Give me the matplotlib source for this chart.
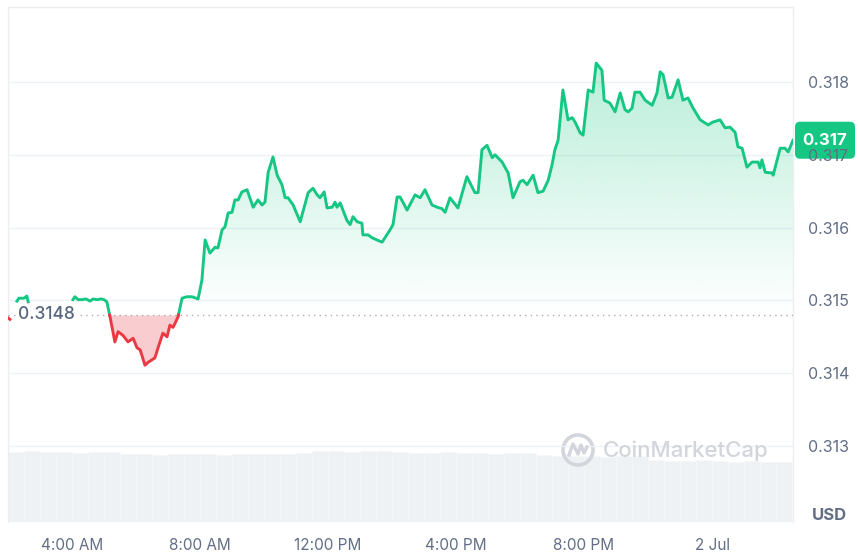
import numpy as np
import matplotlib.pyplot as plt
import matplotlib.transforms as mtransforms
from matplotlib.path import Path
from matplotlib.patches import PathPatch, FancyBboxPatch, Circle
from matplotlib.lines import Line2D
from matplotlib.colors import to_rgb

plt.rcParams['font.family'] = ['Inter', 'DejaVu Sans']

# price series, hours since midnight of 1 Jul (nan = gap in the feed)
hours = [2.00, 2.06, np.nan,
         2.28, 2.34, 2.50, 2.59, 2.63, np.nan,
         4.03, 4.09, 4.19, 4.31, 4.44, 4.56, 4.66, 4.78, 4.91, 5.00, 5.09, 5.19,
         5.34, 5.44, 5.59, 5.75, 5.91, 6.03, 6.13, 6.28, 6.38, 6.59, 6.69, 6.84,
         6.97, 7.06, 7.16, 7.31, 7.44, 7.59, 7.75, 7.94, 8.06, 8.16, 8.31, 8.47,
         8.56, 8.69, 8.78, 8.88, 9.00, 9.09, 9.19, 9.31, 9.47, 9.66, 9.81, 9.94,
         10.03, 10.13, 10.28, 10.41, 10.56, 10.66, 10.75, 10.91, 11.13, 11.38,
         11.53, 11.66, 11.75, 11.88, 11.97, 12.13, 12.22, 12.28, 12.38, 12.59,
         12.69, 12.78, 12.91, 13.06, 13.09, 13.25, 13.38, 13.53, 13.69, 13.94,
         14.03, 14.16, 14.25, 14.34, 14.47, 14.72, 14.88, 15.03, 15.25, 15.41,
         15.56, 15.66, 15.81, 16.06, 16.34, 16.59, 16.69, 16.81, 16.97, 17.13,
         17.22, 17.44, 17.63, 17.78, 18.00, 18.09, 18.22, 18.41, 18.56, 18.72,
         18.88, 19.00, 19.09, 19.19, 19.34, 19.50, 19.63, 19.72, 19.88, 19.97,
         20.13, 20.28, 20.38, 20.56, 20.63, 20.81, 20.97, 21.13, 21.28, 21.38,
         21.50, 21.59, 21.75, 21.91, 22.13, 22.28, 22.38, 22.47, 22.63, 22.75,
         22.94, 23.09, 23.25, 23.41, 23.63, 23.88, 24.03, 24.25, 24.41, 24.56,
         24.72, 24.81, 24.94, 25.09, 25.25, 25.44, 25.50, 25.56, 25.66, 25.88,
         25.91, 26.13, 26.28, 26.38, 26.53]
prices = [0.31476, 0.31474, np.nan,
          0.31499, 0.31503, 0.31503, 0.31506, 0.31498, np.nan,
          0.31501, 0.31505, 0.31501, 0.31501, 0.31502, 0.31499, 0.31502, 0.31501,
          0.31502, 0.31501, 0.31498, 0.31477, 0.31443, 0.31457, 0.31452, 0.31443,
          0.31448, 0.31435, 0.31432, 0.31411, 0.31415, 0.31421, 0.31435, 0.31455,
          0.31450, 0.31466, 0.31463, 0.31477, 0.31503, 0.31505, 0.31505, 0.31502,
          0.31528, 0.31583, 0.31565, 0.31573, 0.31572, 0.31597, 0.31601, 0.31620,
          0.31621, 0.31638, 0.31638, 0.31649, 0.31652, 0.31628, 0.31638, 0.31631,
          0.31635, 0.31676, 0.31697, 0.31672, 0.31659, 0.31641, 0.31641, 0.31631,
          0.31608, 0.31648, 0.31654, 0.31645, 0.31641, 0.31649, 0.31627, 0.31628,
          0.31635, 0.31628, 0.31634, 0.31610, 0.31604, 0.31615, 0.31608, 0.31606,
          0.31590, 0.31590, 0.31586, 0.31583, 0.31580, 0.31597, 0.31604, 0.31642,
          0.31642, 0.31635, 0.31624, 0.31645, 0.31641, 0.31652, 0.31631, 0.31628,
          0.31626, 0.31621, 0.31641, 0.31627, 0.31670, 0.31648, 0.31648, 0.31707,
          0.31713, 0.31696, 0.31700, 0.31690, 0.31675, 0.31641, 0.31663, 0.31665,
          0.31659, 0.31672, 0.31648, 0.31650, 0.31665, 0.31686, 0.31707, 0.31720,
          0.31789, 0.31748, 0.31751, 0.31745, 0.31730, 0.31727, 0.31789, 0.31786,
          0.31826, 0.31816, 0.31775, 0.31771, 0.31759, 0.31785, 0.31762, 0.31759,
          0.31764, 0.31786, 0.31786, 0.31775, 0.31768, 0.31785, 0.31814, 0.31810,
          0.31778, 0.31779, 0.31803, 0.31775, 0.31778, 0.31764, 0.31748, 0.31741,
          0.31745, 0.31748, 0.31737, 0.31738, 0.31731, 0.31711, 0.31709, 0.31683,
          0.31690, 0.31690, 0.31682, 0.31693, 0.31676, 0.31675, 0.31672, 0.31709,
          0.31709, 0.31704, 0.31720]
open_price = 0.3148

# half-hour volume bars from 2:00 onwards (relative units)
volume = [70, 71, 70, 70, 69, 70, 70,
          68, 68, 67, 68, 68, 68, 67, 68, 68, 68, 68, 69,
          71, 71, 70, 71, 71, 70,
          69, 69, 70, 69, 69, 68, 69, 69,
          67, 66, 66, 66, 65, 66, 66,
          62, 61, 61, 62, 61, 60, 61, 60, 60]

tick_hours = [4, 8, 12, 16, 20, 24]
tick_labels = ['4:00 AM', '8:00 AM', '12:00 PM', '4:00 PM', '8:00 PM', '2 Jul']
price_ticks = [0.313, 0.314, 0.315, 0.316, 0.317, 0.318]

GREEN = '#16c784'
RED = '#ea3943'
GRID = '#eff2f5'
TEXT = '#616e85'

W, H = 858, 556
fig = plt.figure(figsize=(W / 100, H / 100), dpi=100)
rect = [8 / W, 34 / H, 785 / W, 515 / H]

# volume in its own (hidden) axes behind the price axes
axv = fig.add_axes(rect, zorder=0)
vx = 2.25 + 0.5 * np.arange(len(volume))
axv.bar(vx, volume, width=0.5, color='#eff2f5', edgecolor='#f5f7f9', linewidth=0.5)
axv.set_xlim(2.0, 26.53)
axv.set_ylim(0, 515)
axv.set_axis_off()

ax = fig.add_axes(rect, zorder=1)
ax.patch.set_visible(False)
x0, x1 = 2.0, 26.53
ylo, yhi = 0.311956, 0.31903


def add_crossings(x, y, base):
    xs, ys = [x[0]], [y[0]]
    for i in range(1, len(x)):
        if (y[i - 1] - base) * (y[i] - base) < 0:
            t = (base - y[i - 1]) / (y[i] - y[i - 1])
            xs.append(x[i - 1] + t * (x[i] - x[i - 1]))
            ys.append(base)
        xs.append(x[i])
        ys.append(y[i])
    return np.array(xs), np.array(ys)


h = np.array(hours)
p = np.array(prices)
breaks = np.where(np.isnan(p))[0]
starts = np.r_[0, breaks + 1]
ends = np.r_[breaks, len(p)]

fill_rgb = to_rgb(GREEN)
grad = np.zeros((256, 1, 4))
grad[..., :3] = fill_rgb
grad[:, 0, 3] = np.linspace(0.0, 0.30, 256)

for s, e in zip(starts, ends):
    xs, ys = add_crossings(h[s:e], p[s:e], open_price)
    eps = 1e-9
    g = np.where(ys >= open_price - eps, ys, np.nan)
    r = np.where(ys <= open_price + eps, ys, np.nan)
    ax.plot(xs, g, color=GREEN, lw=2.1, solid_joinstyle='round', zorder=4)
    ax.plot(xs, r, color=RED, lw=2.1, solid_joinstyle='round', zorder=4)
    if len(xs) < 10:
        continue
    ax.fill_between(xs, ys, open_price, where=ys <= open_price, interpolate=True,
                    color=RED, alpha=0.25, lw=0, zorder=2)
    verts = [(xs[0], open_price)] + list(zip(xs, np.maximum(ys, open_price))) + [(xs[-1], open_price)]
    clip = PathPatch(Path(verts), facecolor='none', edgecolor='none')
    ax.add_patch(clip)
    im = ax.imshow(grad, extent=[xs[0], xs[-1], open_price, np.nanmax(ys)],
                   origin='lower', aspect='auto', zorder=2)
    im.set_clip_path(clip)

ax.axhline(open_price, color='#a6aebb', lw=1, ls=(0, (1, 3)), zorder=3)
ax.text(2.31, open_price, '0.3148', ha='left', va='center', fontsize=12.5,
        fontweight='medium', color='#58667e', zorder=5,
        bbox=dict(facecolor='white', edgecolor='none', pad=1.5))

ax.set_xlim(x0, x1)
ax.set_ylim(ylo, yhi)
ax.set_xticks(tick_hours, tick_labels)
ax.set_yticks(price_ticks, [f'{v:.3f}' for v in price_ticks])
ax.yaxis.tick_right()
ax.tick_params(axis='x', length=0, pad=11.5, labelsize=11, labelcolor=TEXT)
ax.tick_params(axis='y', length=0, pad=11, labelsize=11.5, labelcolor=TEXT)
ax.grid(axis='y', color=GRID, lw=1)
ax.set_axisbelow(True)
for side in ['top', 'left', 'right']:
    ax.spines[side].set_color('#eceff2')
    ax.spines[side].set_linewidth(1)
ax.spines['bottom'].set_visible(False)

# current price tag
last = p[~np.isnan(p)][-1]
px, py = ax.transData.transform((x1, last))
tag = FancyBboxPatch((px + 2, py - 18.5), 60, 37, boxstyle='round,pad=0,rounding_size=5',
                     facecolor=GREEN, edgecolor='none', transform=mtransforms.IdentityTransform())
fig.add_artist(tag)
fig.text((px + 32) / W, py / H, f'{last:.3f}', ha='center', va='center',
         fontsize=12, fontweight='bold', color='white', zorder=5)

fig.text(829 / W, 1 - 515 / H, 'USD', ha='center', va='center', fontsize=12,
         fontweight='bold', color=TEXT)

# watermark
wm = '#d2d6dc'
ident = mtransforms.IdentityTransform()
fig.add_artist(Circle((578, H - 450), 15, fill=False, edgecolor=wm, lw=2.6, transform=ident))
fig.add_artist(Line2D([569, 573, 578, 581, 584, 587], [H - 455, H - 444, H - 454, H - 445, H - 453, H - 447],
                      color=wm, lw=2.4, transform=ident, solid_joinstyle='round'))
fig.text(603 / W, (H - 451) / H, 'CoinMarketCap', ha='left', va='center', fontsize=16,
         fontweight='medium', color=wm)

fig.savefig('out.png', dpi=100)
